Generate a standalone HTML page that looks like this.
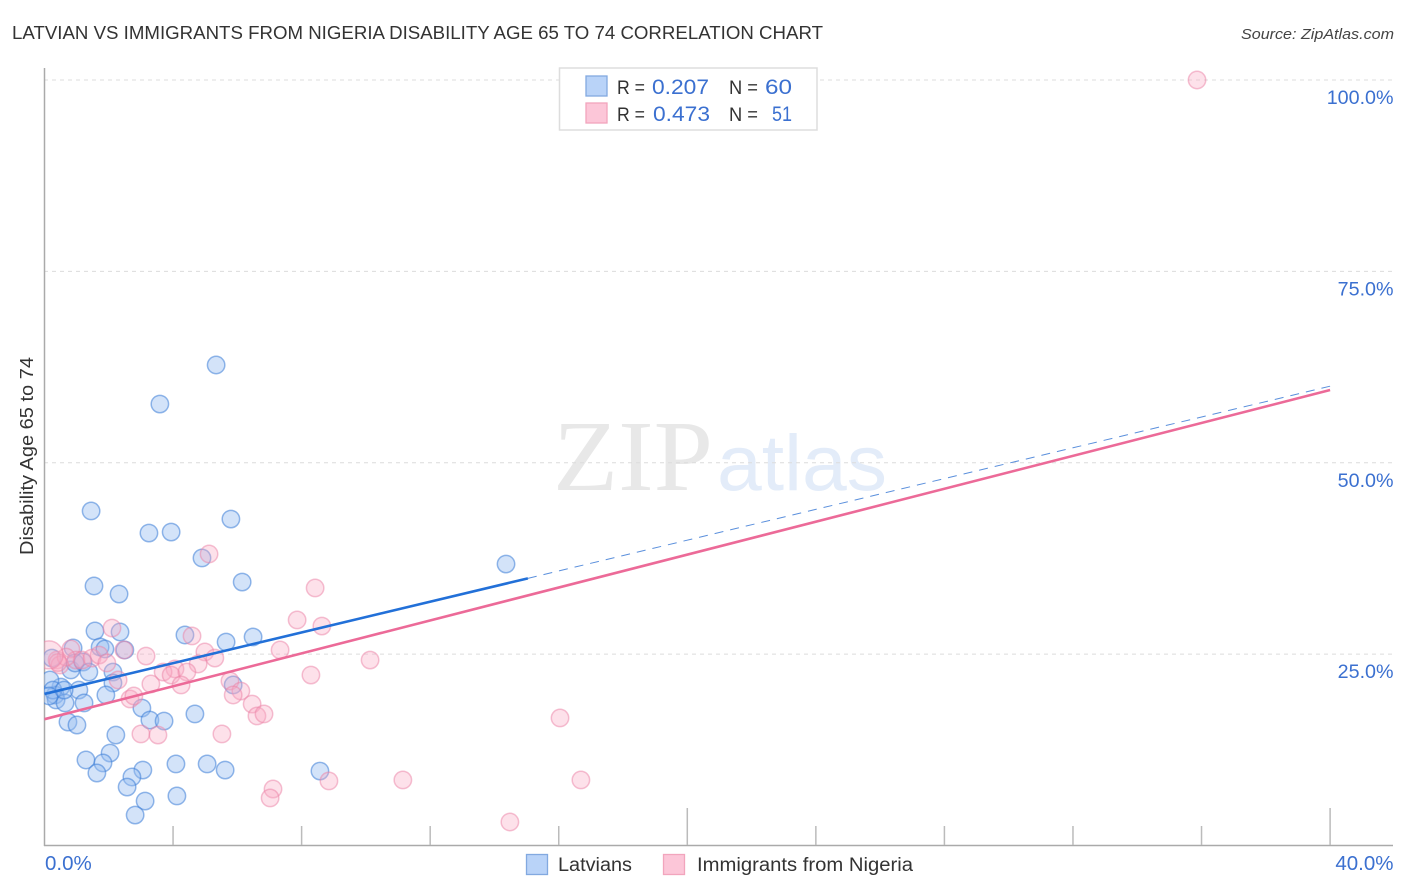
<!DOCTYPE html>
<html lang="en">
<head>
<meta charset="utf-8">
<title>Latvian vs Immigrants from Nigeria Disability Age 65 to 74 Correlation Chart</title>
<style>
html,body{margin:0;padding:0;background:#fff;}
svg{display:block;font-family:"Liberation Sans",sans-serif;}
</style>
</head>
<body>
<svg id="chart" xmlns="http://www.w3.org/2000/svg" width="1406" height="892" viewBox="0 0 1406 892">
  <defs><clipPath id="plot-clip"><rect x="44" y="60" width="1360" height="786"/></clipPath></defs>
  <text x="12" y="39" font-size="18.5" fill="#333" textLength="811" lengthAdjust="spacingAndGlyphs">LATVIAN VS IMMIGRANTS FROM NIGERIA DISABILITY AGE 65 TO 74 CORRELATION CHART</text>
  <text x="1394" y="39" font-size="15" font-style="italic" fill="#444" text-anchor="end" textLength="153" lengthAdjust="spacingAndGlyphs">Source: ZipAtlas.com</text>
  <g>
    <text x="553" y="490" font-family="'Liberation Serif',serif" font-size="101" fill="#e8e8e8" textLength="160" lengthAdjust="spacingAndGlyphs">ZIP</text>
    <text x="717" y="490" font-size="79" fill="#e3ecf9" textLength="170" lengthAdjust="spacingAndGlyphs">atlas</text>
  </g>
  <g id="grid"></g>
  <g id="axes"></g>
  <g id="points" clip-path="url(#plot-clip)"></g>
  <g id="fits"></g>
  <g id="labels"></g>
  <text transform="translate(33,456) rotate(-90)" font-size="18" fill="#333" text-anchor="middle" textLength="198" lengthAdjust="spacingAndGlyphs">Disability Age 65 to 74</text>
  <g>
    <rect x="559.5" y="68" width="257.5" height="62" fill="#fff" stroke="#ddd" stroke-width="1.5"/>
    <rect x="586" y="76" width="21" height="20" fill="#b9d3f8" stroke="#82a9e0" stroke-width="1.3"/>
    <rect x="586" y="103" width="21" height="20" fill="#fcc6d8" stroke="#f2a5bd" stroke-width="1.3"/>
    <text x="617" y="94" font-size="19.5" fill="#333" textLength="28" lengthAdjust="spacingAndGlyphs">R =</text>
    <text x="652" y="94" font-size="21.5" fill="#3b70d0" textLength="57" lengthAdjust="spacingAndGlyphs">0.207</text>
    <text x="729" y="94" font-size="19.5" fill="#333" textLength="29" lengthAdjust="spacingAndGlyphs">N =</text>
    <text x="765" y="94" font-size="21.5" fill="#3b70d0" textLength="27" lengthAdjust="spacingAndGlyphs">60</text>
    <text x="617" y="121" font-size="19.5" fill="#333" textLength="28" lengthAdjust="spacingAndGlyphs">R =</text>
    <text x="653" y="121" font-size="21.5" fill="#3b70d0" textLength="57" lengthAdjust="spacingAndGlyphs">0.473</text>
    <text x="729" y="121" font-size="19.5" fill="#333" textLength="29" lengthAdjust="spacingAndGlyphs">N =</text>
    <text x="772" y="121" font-size="21.5" fill="#3b70d0" textLength="20" lengthAdjust="spacingAndGlyphs">51</text>
  </g>
  <g>
    <rect x="526.5" y="854.5" width="21" height="20" fill="#b9d3f8" stroke="#82a9e0" stroke-width="1.3"/>
    <text x="558" y="871" font-size="19" fill="#333" textLength="74" lengthAdjust="spacingAndGlyphs">Latvians</text>
    <rect x="663.5" y="854.5" width="21" height="20" fill="#fcc6d8" stroke="#f2a5bd" stroke-width="1.3"/>
    <text x="697" y="871" font-size="19" fill="#333" textLength="216" lengthAdjust="spacingAndGlyphs">Immigrants from Nigeria</text>
  </g>
</svg>
<script>
const latviansX = [5.34,3.59,1.45,5.80,3.25,3.94,4.90,6.15,1.54,2.32,14.36,1.57,2.35,4.37,5.65,6.49,1.73,1.88,2.50,0.89,0.23,0.82,0.95,1.20,1.38,2.13,2.13,1.91,1.07,0.51,0.33,0.36,0.64,1.23,0.17,0.73,1.01,3.03,3.28,3.72,2.22,2.04,1.29,1.82,1.63,3.06,2.72,2.57,3.13,2.82,4.09,5.06,5.62,4.12,4.68,5.87,8.57,0.26,0.14,0.61];
const latviansY = [62.77,57.67,43.70,42.65,40.82,40.95,37.56,34.42,33.90,32.85,36.77,28.02,27.89,27.50,26.58,27.24,25.93,25.67,25.54,25.80,24.49,22.93,23.84,23.97,22.66,22.66,21.23,19.66,20.31,20.70,19.66,19.01,18.62,18.62,21.62,16.13,15.74,17.96,16.39,16.26,14.43,12.08,11.17,10.78,9.47,9.86,8.95,7.64,5.81,3.98,10.65,10.65,9.86,6.47,17.18,20.97,9.73,20.31,19.53,20.31];
const nigeriaX = [35.86,5.12,8.42,7.86,8.63,2.10,4.59,0.82,3.16,10.13,7.33,4.99,5.30,4.78,4.06,3.69,3.94,4.43,3.31,4.25,8.29,5.77,6.11,5.87,6.46,6.61,6.83,2.66,2.78,2.29,16.04,3.00,3.53,5.52,7.11,7.02,8.85,11.15,16.69,14.48,0.39,0.48,0.98,1.17,1.48,1.70,1.94,0.67,2.47,0.42];
const nigeriaY = [100,38.08,33.64,29.46,28.67,28.41,27.37,25.67,24.75,24.23,25.54,25.28,24.49,23.71,23.06,22.66,22.27,22.66,21.10,20.97,22.27,21.49,20.18,19.66,18.48,16.92,17.18,19.14,19.53,21.62,16.66,14.57,14.43,14.57,7.38,6.21,8.43,8.56,8.56,3.07,24.23,23.58,24.23,24.23,24.49,24.88,23.84,24.62,25.54,23.90];
const nigeriaLargeX = [0.14];
const nigeriaLargeY = [24.9];
const latviansFitX = [0, 15.04];
const latviansFitY = [19.8, 34.9];
const latviansFitDashX = [15.04, 40];
const latviansFitDashY = [34.9, 60.0];
const nigeriaFitX = [0, 40];
const nigeriaFitY = [16.5, 59.5];
const yTickValues = [25, 50, 75, 100];
const yTickLabels = ["25.0%", "50.0%", "75.0%", "100.0%"];
const xTickValues = [0, 4, 8, 12, 16, 20, 24, 28, 32, 36, 40];
const xMajorTicks = [20, 40];
const xEndValues = [0, 40];
const xEndLabels = ["0.0%", "40.0%"];

const NS = "http://www.w3.org/2000/svg";
function sx(v){ return 44.5 + v * 32.14; }
function sy(v){ return 845.5 - v * 7.655; }
function make(parent, tag, attrs, text){
  const el = document.createElementNS(NS, tag);
  for (const k in attrs) el.setAttribute(k, attrs[k]);
  if (text !== undefined) el.textContent = text;
  document.getElementById(parent).appendChild(el);
  return el;
}
yTickValues.forEach(function(v, i){
  const line = make("grid", "line", {x1:44, x2:1393, y1:sy(v), y2:sy(v), stroke:"#dcdcdc", "stroke-width":1, "stroke-dasharray":"4 4"});
  
  
  const t = make("labels", "text", {x:1393.5, y:sy(v)+24, "text-anchor":"end", "font-size":19.7, fill:"#3b70d0"}, yTickLabels[i]);
  
  
});
const yAxisLine = make("axes", "line", {x1:44.5, x2:44.5, y1:68, y2:846, stroke:"#aaa", "stroke-width":1.5});


const xAxisLine = make("axes", "line", {x1:44, x2:1393, y1:845.5, y2:845.5, stroke:"#aaa", "stroke-width":1.5});


xTickValues.forEach(function(v){
  if (v === 0) return;
  const top = xMajorTicks.indexOf(v) >= 0 ? 808 : 826;
  const tick = make("axes", "line", {x1:sx(v), x2:sx(v), y1:top, y2:845, stroke:"#bbb", "stroke-width":1.5});
  
  
});
xEndValues.forEach(function(v, i){
  const t = make("labels", "text", {x: i === 0 ? sx(v) + 0.5 : 1393.5, y:870, "text-anchor": i === 0 ? "start" : "end", "font-size":20.5, fill:"#3b70d0"}, xEndLabels[i]);
  
  
});
latviansX.forEach(function(v, i){
  const c = make("points", "circle", {cx:sx(v), cy:sy(latviansY[i]), r:8.7, fill:"rgba(150,188,240,0.42)", stroke:"rgba(60,125,215,0.55)", "stroke-width":1.5});
  
  
});
nigeriaX.forEach(function(v, i){
  const c = make("points", "circle", {cx:sx(v), cy:sy(nigeriaY[i]), r:8.7, fill:"rgba(248,170,195,0.35)", stroke:"rgba(235,130,165,0.5)", "stroke-width":1.5});
  
  
});
nigeriaLargeX.forEach(function(v, i){
  const c = make("points", "circle", {cx:sx(v), cy:sy(nigeriaLargeY[i]), r:14, fill:"rgba(248,170,195,0.35)", stroke:"rgba(235,130,165,0.5)", "stroke-width":1.5});
  
  
});
const dash = make("fits", "line", {x1:sx(latviansFitDashX[0]), y1:sy(latviansFitDashY[0]), x2:sx(latviansFitDashX[1]), y2:sy(latviansFitDashY[1]), stroke:"#5a8fdc", "stroke-width":1, "stroke-dasharray":"9 7"});


const pinkFit = make("fits", "line", {x1:sx(nigeriaFitX[0]), y1:sy(nigeriaFitY[0]), x2:sx(nigeriaFitX[1]), y2:sy(nigeriaFitY[1]), stroke:"#ec6a98", "stroke-width":2.6});


const blueFit = make("fits", "line", {x1:sx(latviansFitX[0]), y1:sy(latviansFitY[0]), x2:sx(latviansFitX[1]), y2:sy(latviansFitY[1]), stroke:"#2270d8", "stroke-width":2.6});


</script>
</body>
</html>
